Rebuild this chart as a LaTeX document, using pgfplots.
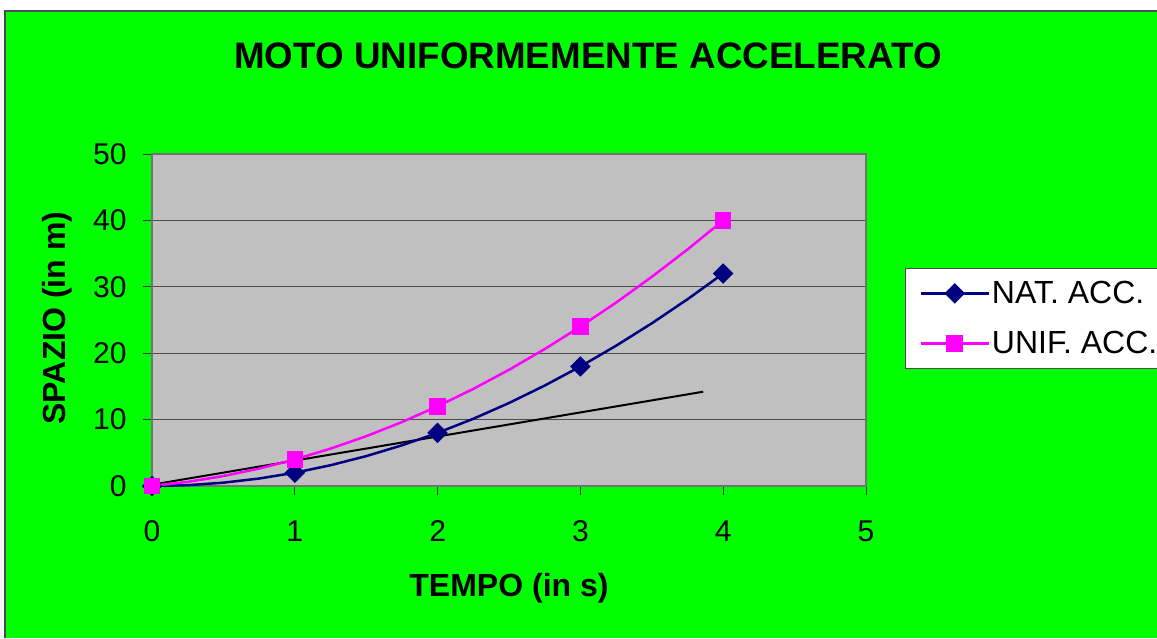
\documentclass[border=0pt]{standalone}
\usepackage{pgfplots}
\pgfplotsset{compat=1.18}
\usepackage{fontspec}
\setmainfont{Liberation Sans}
\definecolor{bggreen}{HTML}{00FF00}
\definecolor{plotgray}{HTML}{C0C0C0}
\definecolor{navyc}{HTML}{000080}
\definecolor{magc}{HTML}{FF00FF}
\begin{document}
\begin{tikzpicture}[x=1pt,y=1pt]
\useasboundingbox (0,0) rectangle (1157,638);
\fill[bggreen] (5,0) rectangle (1157,627);
\draw[black!70, line width=1.5pt] (5,0) -- (5,627) -- (1157,627);
\begin{axis}[
  at={(152pt,152pt)}, anchor=south west,
  width=714pt, height=332pt, scale only axis,
  xmin=0, xmax=5, ymin=0, ymax=50,
  xtick={0,1,2,3,4,5}, ytick={0,10,20,30,40,50},
  /pgf/number format/assume math mode=true,
  tick pos=left, tick align=outside,
  major tick length=9pt,
  tick style={black!80, line width=1pt},
  axis line style={black!55, line width=1.5pt},
  axis background/.style={fill=plotgray},
  ymajorgrids, major grid style={black!70, line width=1.2pt},
  tick label style={font=\fontsize{30}{30}\selectfont},
  xticklabel style={anchor=north, yshift=-22pt},
  yticklabel style={anchor=east, xshift=-13pt},
  title={\bfseries MOTO UNIFORMEMENTE ACCELERATO},
  title style={at={(axis description cs:0.6106,1.277)}, anchor=center, font=\fontsize{36.8}{37}\selectfont},
  xlabel={\bfseries TEMPO (in s)},
  xlabel style={at={(axis description cs:0.5,-0.307)}, anchor=center, font=\fontsize{32}{32}\selectfont},
  ylabel={\bfseries SPAZIO (in m)},
  ylabel style={at={(axis description cs:-0.133,0.506)}, anchor=center, font=\fontsize{32}{32}\selectfont},
  legend style={at={(1.0546,0.6566)}, anchor=north west, draw=black!70, line width=1pt, fill=white,
    font=\fontsize{32}{32}\selectfont, inner xsep=14pt, inner ysep=11pt, row sep=22pt,
    cells={anchor=west}, /tikz/column 2/.style={column sep=6pt}},
  legend image code/.code={\draw[mark repeat=2,mark phase=2,#1] plot coordinates {(0pt,0pt) (34pt,0pt) (68pt,0pt)};},
]
\addlegendimage{navyc, line width=2.5pt, mark=square*, mark size=6pt, mark options={rotate=45, solid}}
\addlegendentry{NAT. ACC.}
\addlegendimage{magc, line width=2.5pt, mark=square*, mark size=7pt, mark options={solid}}
\addlegendentry{UNIF. ACC.}
% black straight line
\addplot[black, line width=2pt, forget plot] coordinates {(0,0.2) (3.86,14.2)};
% NAT. ACC.
\addplot[navyc, line width=2.5pt, mark=square*, mark size=6pt, mark options={rotate=45},
  mark indices={1,5,9,13,17}, forget plot] coordinates {
 (0,0) (0.25,0.125) (0.5,0.5) (0.75,1.125) (1,2) (1.25,3.125) (1.5,4.5) (1.75,6.125)
 (2,8) (2.25,10.125) (2.5,12.5) (2.75,15.125) (3,18) (3.25,21.125) (3.5,24.5) (3.75,28.125) (4,32)};
% UNIF. ACC.
\addplot[magc, line width=2.5pt, mark=square*, mark size=7pt,
  mark indices={1,5,9,13,17}, forget plot] coordinates {
 (0,0) (0.25,0.625) (0.5,1.5) (0.75,2.625) (1,4) (1.25,5.625) (1.5,7.5) (1.75,9.625)
 (2,12) (2.25,14.625) (2.5,17.5) (2.75,20.625) (3,24) (3.25,27.625) (3.5,31.5) (3.75,35.625) (4,40)};
\end{axis}
\end{tikzpicture}
\end{document}
